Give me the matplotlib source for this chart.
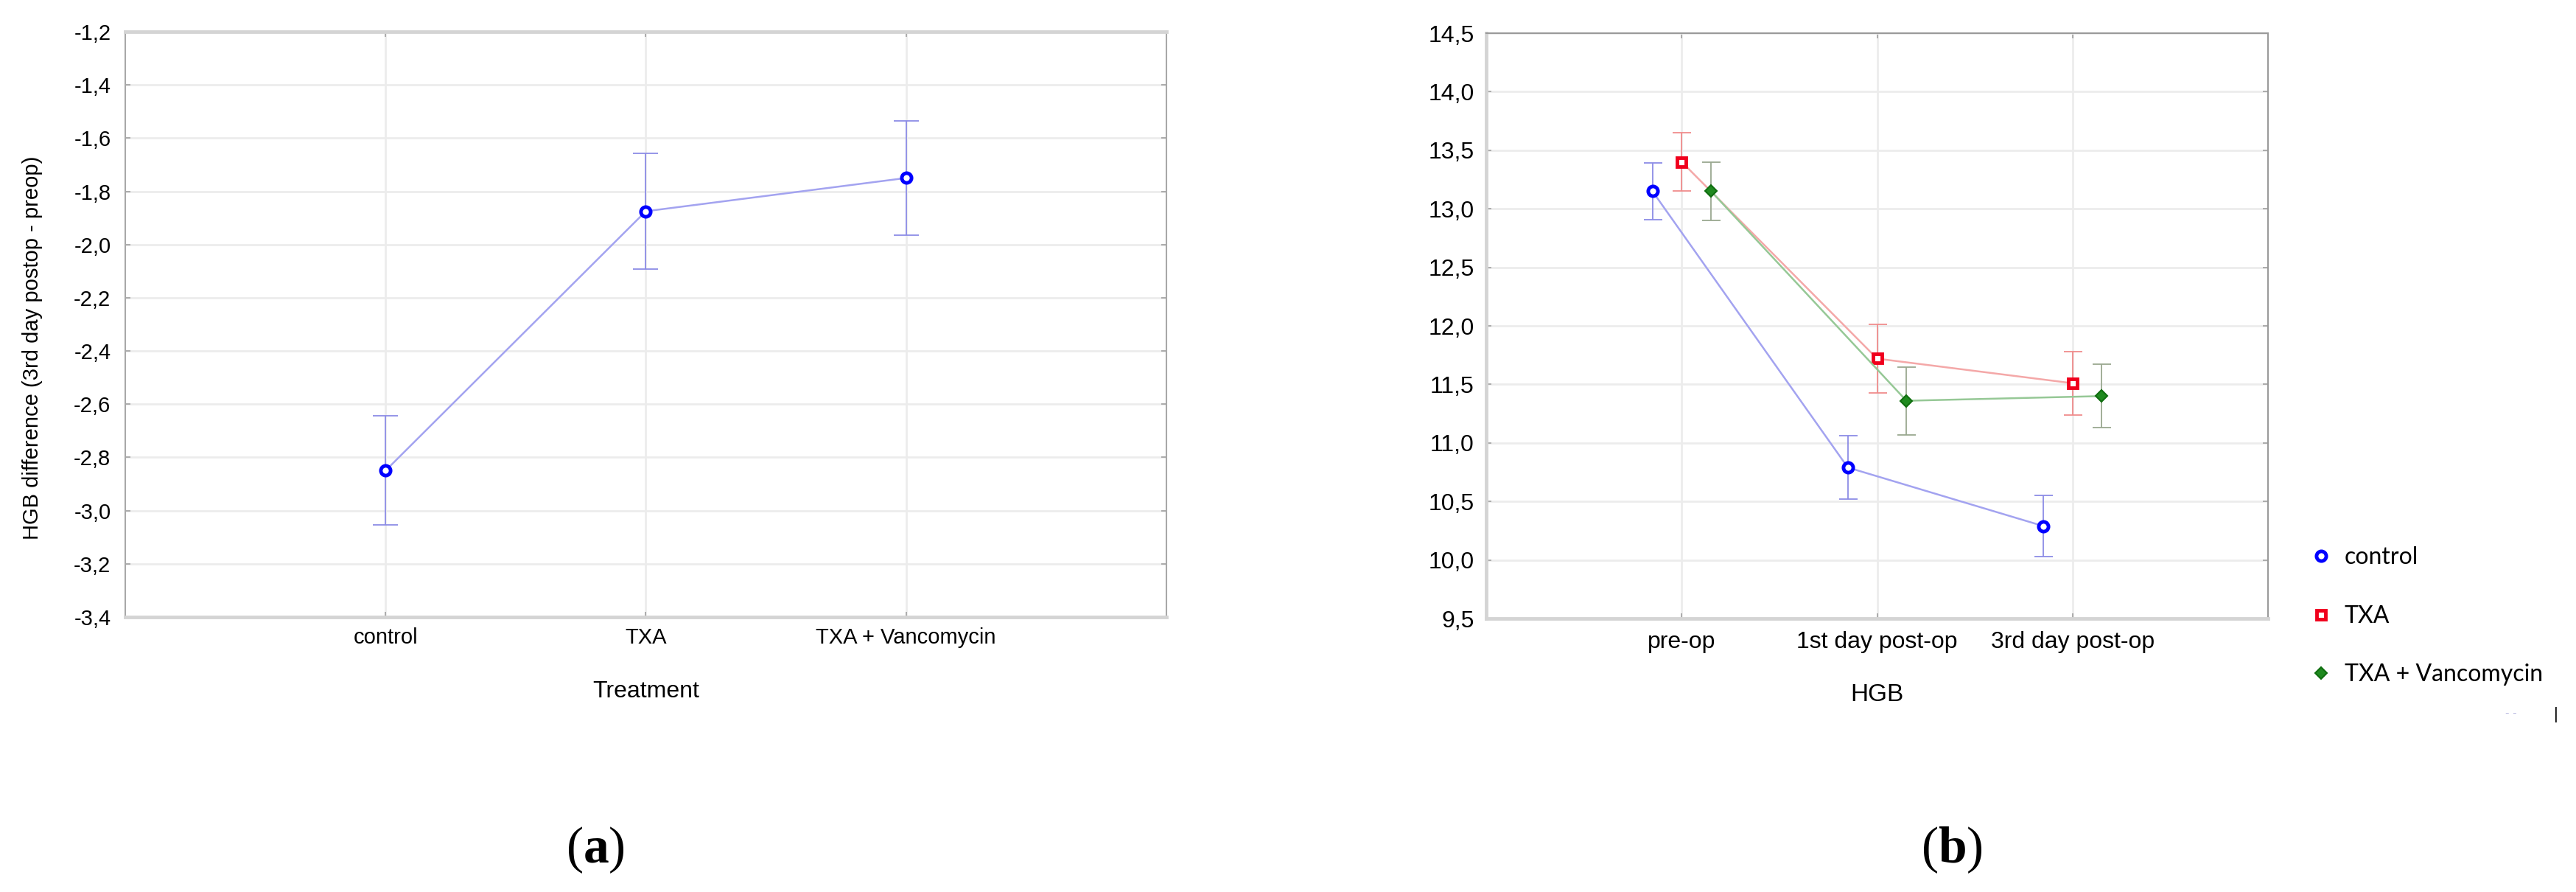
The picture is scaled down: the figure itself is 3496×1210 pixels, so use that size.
import matplotlib
matplotlib.use('Agg')
import matplotlib.pyplot as plt
from matplotlib.ticker import FuncFormatter, MultipleLocator
from matplotlib.lines import Line2D
import numpy as np

plt.rcParams['font.family'] = ['Liberation Sans', 'DejaVu Sans']
plt.rcParams['mathtext.fontset'] = 'custom'
plt.rcParams['mathtext.rm'] = 'Liberation Serif'
plt.rcParams['mathtext.bf'] = 'Liberation Serif:bold'

# (a) HGB difference by treatment
treatments = ['control', 'TXA', 'TXA + Vancomycin']
diff_mean = [-2.85, -1.875, -1.75]
diff_err = [0.205, 0.217, 0.215]

# (b) HGB at three time points
timepoints = ['pre-op', '1st day post-op', '3rd day post-op']
groups = ['control', 'TXA', 'TXA + Vancomycin']
hgb_control = [13.15, 10.79, 10.29]
hgb_txa = [13.40, 11.72, 11.51]
hgb_vanco = [13.15, 11.36, 11.40]
err_control = [0.24, 0.27, 0.26]
err_txa = [0.25, 0.29, 0.27]
err_vanco = [0.25, 0.29, 0.27]


def comma(v, pos):
    return f'{v:.1f}'.replace('.', ',')


def style_axes(ax, grid_c='#ececec'):
    ax.set_axisbelow(True)
    ax.grid(True, color=grid_c, lw=2)
    ax.tick_params(direction='in', length=5, width=1.2, color='#a0a0a0',
                   top=True, right=True)
    ax.yaxis.set_major_formatter(FuncFormatter(comma))


fig = plt.figure(figsize=(34.96, 12.10), dpi=100)

# ---------- panel (a) ----------
ax1 = fig.add_axes([0.0486, 0.3083, 0.4042, 0.6562])
x1 = np.arange(len(treatments))
ax1.errorbar(x1, diff_mean, yerr=diff_err, fmt='none', ecolor='#8c8ce6',
             elinewidth=1.3, capsize=12, capthick=1.3)
ax1.plot(x1, diff_mean, color='#a3a3f0', lw=1.8)
ax1.plot(x1, diff_mean, ls='none', marker='o', ms=9.5, mew=3.5,
         mec='#0000ff', mfc='white')
ax1.set_xlim(-1, 3)
ax1.set_ylim(-3.4, -1.2)
ax1.yaxis.set_major_locator(MultipleLocator(0.2))
ax1.set_xticks(x1)
ax1.set_xticklabels(treatments)
style_axes(ax1)
ax1.tick_params(labelsize=21, pad=10)
ax1.tick_params(axis='y', pad=14)
for s in ['top', 'bottom']:
    ax1.spines[s].set_color('#d4d4d4')
    ax1.spines[s].set_linewidth(3.5)
for s in ['left', 'right']:
    ax1.spines[s].set_color('#a8a8a8')
    ax1.spines[s].set_linewidth(1.5)
ax1.set_xlabel('Treatment', fontsize=23)
ax1.xaxis.set_label_coords(0.5, -0.108)
ax1.set_ylabel('HGB difference (3rd day postop - preop)', fontsize=21)
ax1.yaxis.set_label_coords(-0.079, 0.46)

# ---------- panel (b) ----------
ax2 = fig.add_axes([0.5770, 0.3066, 0.3034, 0.6562])
x2 = np.arange(len(timepoints))
offsets = [-0.15, 0.0, 0.15]
series = [
    (hgb_control, err_control, dict(marker='o', ms=9.5, mew=3.5, mec='#0000ff', mfc='white'),
     '#a3a3f0', '#8c8ce6'),
    (hgb_txa, err_txa, dict(marker='s', ms=8.5, mew=3.5, mec='#f0001c', mfc='white'),
     '#f4a8a8', '#f08c8c'),
    (hgb_vanco, err_vanco, dict(marker='D', ms=8.5, mew=1.5, mec='#0f6e0f', mfc='#1f8a1f'),
     '#96c896', '#9aa890'),
]
handles = []
for (vals, errs, mk, lc, ec), off in zip(series, offsets):
    xs = x2 + off
    ax2.errorbar(xs, vals, yerr=errs, fmt='none', ecolor=ec,
                 elinewidth=1.3, capsize=9, capthick=1.3)
    ax2.plot(xs, vals, color=lc, lw=1.8)
    ax2.plot(xs, vals, ls='none', **mk)
    handles.append(Line2D([], [], ls='none', **mk))
ax2.set_xlim(-1, 3)
ax2.set_ylim(9.5, 14.5)
ax2.yaxis.set_major_locator(MultipleLocator(0.5))
ax2.set_xticks(x2)
ax2.set_xticklabels(timepoints)
style_axes(ax2)
ax2.tick_params(labelsize=23, pad=12)
for s in ['top', 'right']:
    ax2.spines[s].set_color('#9a9a9a')
    ax2.spines[s].set_linewidth(1.5)
for s in ['left', 'bottom']:
    ax2.spines[s].set_color('#d4d4d4')
    ax2.spines[s].set_linewidth(3.5)
ax2.set_xlabel('HGB', fontsize=24)
ax2.xaxis.set_label_coords(0.5, -0.111)

fig.legend(handles, groups, loc='upper left', bbox_to_anchor=(0.8973, 0.3874),
           frameon=False, prop={'family': 'Lato', 'size': 23},
           labelspacing=1.55, handlelength=0.8, handletextpad=0.6,
           borderpad=0, borderaxespad=0)
# small leftover marks under the legend
fig.text(0.9726, 0.2, '- -', color='#b8b8e0', fontsize=12, va='center')
fig.text(0.9915, 0.199, '|', color='black', fontsize=16, va='center')

# panel letters
fig.text(0.2311, 0.047, r'($\mathbf{a}$)', fontsize=50, family='Liberation Serif',
         ha='center', va='center')
fig.text(0.7577, 0.047, r'($\mathbf{b}$)', fontsize=50, family='Liberation Serif',
         ha='center', va='center')

fig.savefig('out.png', dpi=100, facecolor='white')
